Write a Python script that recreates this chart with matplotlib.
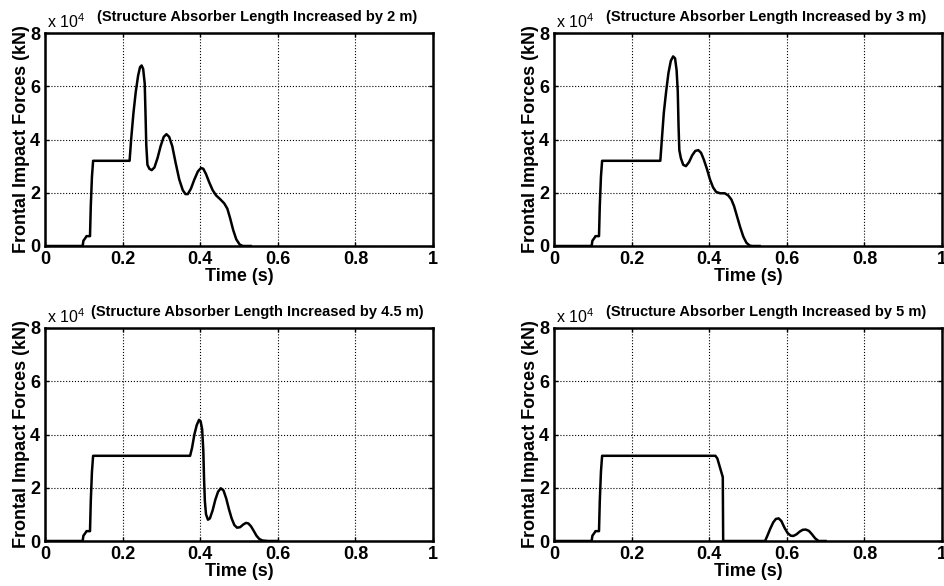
import matplotlib
matplotlib.use("Agg")
import matplotlib.pyplot as plt

plt.rcParams['font.family'] = ['Liberation Sans', 'DejaVu Sans']
plt.rcParams['font.weight'] = 'bold'
plt.rcParams['mathtext.default'] = 'regular'

# force values in units of 10^4 kN, time in s
t_2m = [0, 0.097, 0.099, 0.104, 0.107, 0.116, 0.118, 0.121, 0.124, 0.218, 0.222,
        0.228, 0.234, 0.240, 0.245, 0.249, 0.253, 0.257, 0.259, 0.261, 0.264,
        0.269, 0.275, 0.282, 0.290, 0.298, 0.306, 0.313, 0.320, 0.328, 0.337,
        0.346, 0.355, 0.362, 0.368, 0.376, 0.385, 0.394, 0.402, 0.408, 0.415,
        0.423, 0.432, 0.441, 0.452, 0.462, 0.470, 0.477, 0.485, 0.493, 0.502,
        0.510, 0.530]
f_2m = [0, 0, 0.2, 0.3, 0.37, 0.37, 1.5, 2.6, 3.2, 3.2, 4.0,
        5.0, 5.8, 6.4, 6.72, 6.78, 6.65, 6.1, 5.0, 3.8, 3.05,
        2.9, 2.85, 2.95, 3.3, 3.75, 4.1, 4.2, 4.1, 3.75, 3.1,
        2.5, 2.1, 1.95, 1.95, 2.15, 2.5, 2.8, 2.93, 2.9, 2.7,
        2.4, 2.1, 1.9, 1.75, 1.6, 1.4, 1.05, 0.6, 0.25, 0.05,
        0, 0]

t_3m = [0, 0.097, 0.099, 0.104, 0.107, 0.116, 0.118, 0.121, 0.124, 0.274, 0.278,
        0.283, 0.289, 0.295, 0.301, 0.307, 0.312, 0.316, 0.319, 0.321, 0.323,
        0.327, 0.333, 0.340, 0.348, 0.356, 0.364, 0.372, 0.379, 0.386, 0.394,
        0.402, 0.410, 0.418, 0.428, 0.440, 0.449, 0.457, 0.464, 0.472, 0.480,
        0.488, 0.496, 0.504, 0.510, 0.530]
f_3m = [0, 0, 0.2, 0.3, 0.37, 0.37, 1.5, 2.6, 3.2, 3.2, 4.0,
        5.0, 5.8, 6.5, 6.95, 7.12, 7.05, 6.6, 5.8, 4.5, 3.6,
        3.3, 3.05, 3.0, 3.15, 3.4, 3.57, 3.6, 3.5, 3.25, 2.9,
        2.5, 2.2, 2.03, 1.98, 1.98, 1.9, 1.75, 1.5, 1.1, 0.7,
        0.35, 0.12, 0.02, 0, 0]

t_45m = [0, 0.097, 0.099, 0.104, 0.107, 0.116, 0.118, 0.121, 0.124, 0.374, 0.379,
         0.385, 0.391, 0.397, 0.401, 0.405, 0.408, 0.410, 0.412, 0.415, 0.420,
         0.425, 0.432, 0.439, 0.446, 0.453, 0.460, 0.467, 0.474, 0.481, 0.488,
         0.495, 0.503, 0.511, 0.518, 0.524, 0.531, 0.538, 0.545, 0.552, 0.560,
         0.575, 0.600]
f_45m = [0, 0, 0.2, 0.3, 0.37, 0.37, 1.5, 2.6, 3.2, 3.2, 3.5,
         4.0, 4.35, 4.55, 4.5, 4.2, 3.4, 2.3, 1.5, 1.0, 0.8,
         0.85, 1.15, 1.55, 1.85, 1.98, 1.9, 1.6, 1.2, 0.85, 0.6,
         0.5, 0.52, 0.62, 0.68, 0.66, 0.55, 0.38, 0.2, 0.08, 0.02,
         0, 0]

t_5m = [0, 0.097, 0.099, 0.104, 0.107, 0.116, 0.118, 0.121, 0.124, 0.416, 0.421,
        0.426, 0.431, 0.435, 0.436, 0.544, 0.550, 0.557, 0.565, 0.572, 0.579,
        0.586, 0.594, 0.602, 0.610, 0.617, 0.625, 0.633, 0.641, 0.649, 0.657,
        0.665, 0.673, 0.682, 0.700]
f_5m = [0, 0, 0.2, 0.3, 0.37, 0.37, 1.5, 2.6, 3.2, 3.2, 3.1,
        2.85, 2.6, 2.4, 0, 0, 0.2, 0.45, 0.7, 0.83, 0.85,
        0.75, 0.5, 0.3, 0.2, 0.19, 0.25, 0.35, 0.42, 0.43, 0.38,
        0.25, 0.1, 0, 0]

titles = ['(Structure Absorber Length Increased by 2 m)',
          '(Structure Absorber Length Increased by 3 m)',
          '(Structure Absorber Length Increased by 4.5 m)',
          '(Structure Absorber Length Increased by 5 m)']
xticks = [0, 0.2, 0.4, 0.6, 0.8, 1]
xticklabels = ['0', '0.2', '0.4', '0.6', '0.8', '1']
yticks = [0, 2, 4, 6, 8]

series = [(t_2m, f_2m), (t_3m, f_3m), (t_45m, f_45m), (t_5m, f_5m)]

fig = plt.figure(figsize=(9.44, 5.86), dpi=100)
W, H = 944.0, 586.0
boxes = [(45, 33), (554, 33), (45, 328), (554, 328)]  # left, top in px
aw, ah = 388, 213

for (left, top), (t, f), title in zip(boxes, series, titles):
    ax = fig.add_axes([left / W, 1 - (top + ah) / H, aw / W, ah / H])
    ax.plot(t, f, color='black', linewidth=1.8, solid_joinstyle='round')
    ax.set_xlim(0, 1)
    ax.set_ylim(0, 8)
    ax.set_xticks(xticks)
    ax.set_xticklabels(xticklabels)
    ax.set_yticks(yticks)
    ax.grid(True, color='black', linestyle=':', linewidth=0.8)
    ax.tick_params(direction='in', length=3, width=1, labelsize=13,
                   top=True, right=True)
    ax.tick_params(axis='x', pad=3.5)
    ax.tick_params(axis='y', pad=3.5)
    for sp in ax.spines.values():
        sp.set_linewidth(1.8)
    ax.set_xlabel('Time (s)', fontsize=13, fontweight='bold', labelpad=0)
    ax.set_ylabel('Frontal Impact Forces (kN)', fontsize=13, fontweight='bold', labelpad=0)
    ax.text(0.005, 1.01, r'x 10$^{4}$', transform=ax.transAxes, fontsize=11.5,
            fontweight='normal', ha='left', va='bottom')
    ax.text(0.547, 1.075, title, transform=ax.transAxes, fontsize=10.5,
            fontweight='bold', ha='center', va='center')

fig.savefig('out.png', dpi=100)
